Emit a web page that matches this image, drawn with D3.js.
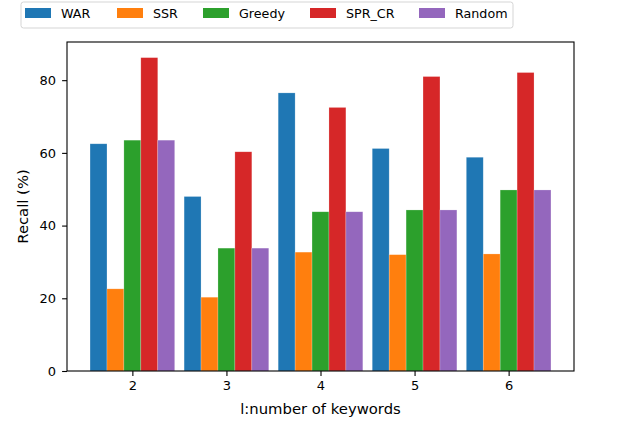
<!DOCTYPE html>
<html>
<head>
<meta charset="utf-8">
<script src="https://cdn.jsdelivr.net/npm/d3@7"></script>
<style>
  body { margin: 0; background: #fff; }
  svg text { font-family: "DejaVu Sans", sans-serif; }
</style>
</head>
<body>
<div id="chart"></div>
<script>
// keyword counts on the x axis
var categories = [2, 3, 4, 5, 6];
var seriesNames = ["WAR", "SSR", "Greedy", "SPR_CR", "Random"];
var seriesColors = ["#1f77b4", "#ff7f0e", "#2ca02c", "#d62728", "#9467bd"];

// recall values
var war    = [62.5, 48.0, 76.5, 61.2, 58.8];
var ssr    = [22.6, 20.3, 32.7, 32.0, 32.2];
var greedy = [63.5, 33.8, 43.8, 44.3, 49.8];
var sprCr  = [86.2, 60.3, 72.5, 81.0, 82.1];
var random = [63.5, 33.8, 43.8, 44.3, 49.8];

var yTicks = [0, 20, 40, 60, 80];

var allSeries = [war, ssr, greedy, sprCr, random];

var width = 622, height = 424;
var margin = {left: 67, right: 48, top: 42, bottom: 53};
var barW = 0.18;
var tickFont = "13px", labelFont = "14.8px", legendFont = "12.7px";

var svg = d3.select("#chart").append("svg")
  .attr("width", width)
  .attr("height", height);

// matplotlib style limits: bars span 1.55..6.45 plus 5% margin
var x = d3.scaleLinear()
  .domain([1.305, 6.695])
  .range([margin.left, width - margin.right]);

var y = d3.scaleLinear()
  .domain([0, 90.5])
  .range([height - margin.bottom, margin.top]);

// bars
allSeries.forEach(function(vals, s) {
  svg.append("g").selectAll("rect")
    .data(vals)
    .enter()
    .append("rect")
    .attr("x", function(d, i) { return x(categories[i] + (s - 2) * barW - barW / 2); })
    .attr("width", x(barW) - x(0))
    .attr("y", function(d) { return y(d); })
    .attr("height", function(d) { return y(0) - y(d); })
    .attr("fill", seriesColors[s])
    .attr("stroke", "#fff")
    .attr("stroke-opacity", 0.35)
    .attr("stroke-width", 0.6);
});

// axes
var xAxis = svg.append("g")
  .attr("transform", "translate(0," + y(0) + ")")
  .call(d3.axisBottom(x).tickValues(categories).tickFormat(d3.format("d"))
    .tickSize(4.9).tickPadding(4.5).tickSizeOuter(0));
var yAxis = svg.append("g")
  .attr("transform", "translate(" + x.range()[0] + ",0)")
  .call(d3.axisLeft(y).tickValues(yTicks).tickFormat(d3.format("d"))
    .tickSize(4.9).tickPadding(6).tickSizeOuter(0));

[xAxis, yAxis].forEach(function(a) {
  a.select(".domain").remove();
  a.selectAll("text").attr("font-size", tickFont).attr("fill", "#000")
    .attr("font-family", "DejaVu Sans, sans-serif");
  a.selectAll("line").attr("stroke", "#000").attr("stroke-width", 1.1);
});

// frame
svg.append("rect")
  .attr("x", x.range()[0])
  .attr("y", y.range()[1])
  .attr("width", x.range()[1] - x.range()[0])
  .attr("height", y.range()[0] - y.range()[1])
  .attr("fill", "none")
  .attr("stroke", "#000")
  .attr("stroke-width", 1.1);

// axis labels
svg.append("text")
  .attr("x", (x.range()[0] + x.range()[1]) / 2)
  .attr("y", 414)
  .attr("text-anchor", "middle")
  .attr("font-size", labelFont)
  .text("l:number of keywords");

svg.append("text")
  .attr("transform", "translate(28," + ((y.range()[0] + y.range()[1]) / 2) + ") rotate(-90)")
  .attr("text-anchor", "middle")
  .attr("font-size", labelFont)
  .text("Recall (%)");

// legend across the top
var legendX = [25, 117, 203, 310, 419];
var legend = svg.append("g");
legend.append("rect")
  .attr("x", 21).attr("y", 2)
  .attr("width", 492).attr("height", 26)
  .attr("rx", 2.5)
  .attr("fill", "#fff")
  .attr("stroke", "#d5d5d5")
  .attr("stroke-width", 1);

seriesNames.forEach(function(name, i) {
  legend.append("rect")
    .attr("x", legendX[i]).attr("y", 8)
    .attr("width", 26).attr("height", 10)
    .attr("fill", seriesColors[i]);
  legend.append("text")
    .attr("x", legendX[i] + 36).attr("y", 18)
    .attr("font-size", legendFont)
    .text(name);
});
</script>
</body>
</html>
